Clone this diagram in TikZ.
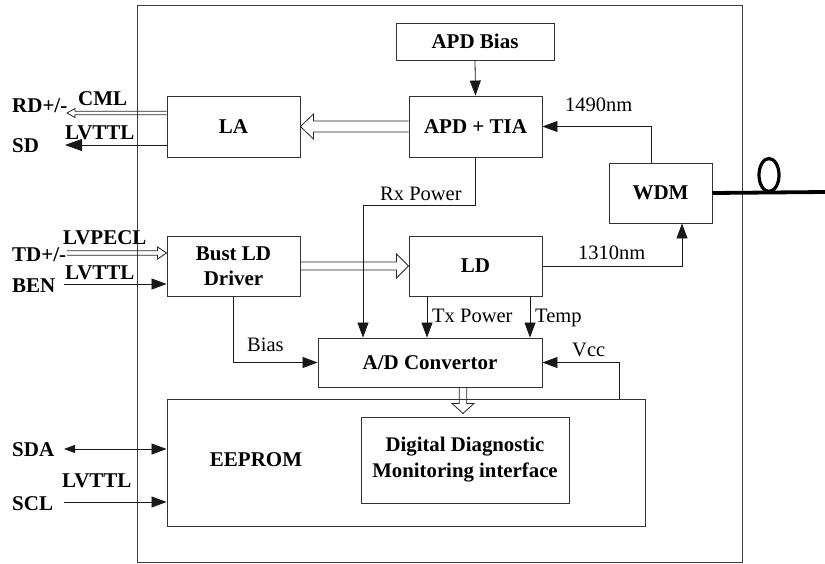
\documentclass[tikz,border=0pt]{standalone}
\usepackage{fontspec}
\setmainfont{Liberation Serif}
\usetikzlibrary{arrows.meta,calc}

% hollow (outlined) block arrow from #1 (tail) to #2 (tip);
% #3 half shaft width, #4 half head width, #5 head length
\newcommand\hollowarr[5]{%
  \coordinate (hb) at ($(#2)!#5!(#1)$);
  \draw[hol] ($(#1)!#3!90:(#2)$) -- ($(hb)!#3!-90:(#1)$) -- ($(hb)!#4!-90:(#1)$)
    -- (#2) -- ($(hb)!#4!90:(#1)$) -- ($(hb)!#3!90:(#1)$) -- ($(#1)!#3!-90:(#2)$);
}

\begin{document}
\begin{tikzpicture}[x=1pt,y=-1pt,
  blk/.style={draw=black!80, line width=0.9pt, inner sep=0pt, align=center,
    font=\bfseries\fontsize{21}{25}\selectfont},
  blab/.style={inner sep=0pt, anchor=base west, font=\bfseries\fontsize{21}{25}\selectfont},
  nlab/.style={inner sep=0pt, anchor=base west, font=\fontsize{20.5}{24}\selectfont},
  sig/.style={draw=black!90, line width=0.8pt, -{Triangle[length=15pt,width=11pt]}},
  hol/.style={draw=black!85, line width=0.8pt, line join=miter},
]
\useasboundingbox (0,0) rectangle (825,563);

% module outline
\draw[black!75, line width=0.9pt] (137,5) rectangle (742,562);

% function blocks
\node[blk, minimum width=158pt, minimum height=37pt] (apdbias) at (475,41.5) {APD Bias};
\node[blk, minimum width=133pt, minimum height=61pt] (apdtia) at (475.5,126.5) {APD + TIA};
\node[blk, minimum width=133pt, minimum height=61pt] (la) at (233.5,126.5) {LA};
\node[blk, minimum width=103pt, minimum height=60pt] (wdm) at (660.5,193) {WDM};
\node[blk, minimum width=133pt, minimum height=60pt] (driver) at (233.5,266) {Bust LD\\Driver};
\node[blk, minimum width=133pt, minimum height=60pt] (ld) at (475.5,266) {LD};
\node[blk, minimum width=224pt, minimum height=49pt] (ad) at (430,362.5) {A/D Convertor};
\node[blk, minimum width=478pt, minimum height=127pt] (eeprom) at (406,462.5) {};
\node[blk, minimum width=208pt, minimum height=86pt, font=\bfseries\fontsize{20.8}{26}\selectfont]
  (ddm) at (465,460) {Digital Diagnostic\\Monitoring interface};
\node[inner sep=0pt, font=\bfseries\fontsize{21}{25}\selectfont] (eeplab) at (256,460) {EEPROM};

% receive path
\draw[sig] (apdbias.south) -- (apdtia.north);
\draw[sig] ([xshift=-9.5pt]wdm.north) |- (apdtia.east);
\node[nlab] (l1490) at (565,111) {1490nm};
\hollowarr{apdtia.west}{la.east}{5.5pt}{12.5pt}{13pt}

% transmit path
\hollowarr{driver.east}{ld.west}{4pt}{12pt}{12pt}
\draw[sig] (ld.east) -| ([xshift=21.5pt]wdm.south);
\node[nlab] (l1310) at (578,259) {1310nm};

% fiber pigtail with loop
\coordinate (fibend) at (825,192);
\coordinate (loopc) at (769,175);
\draw[line width=3.8pt] (wdm.east) -- (fibend);
\draw[line width=3.2pt] (loopc) ellipse [x radius=10pt, y radius=16.5pt];

% monitoring signals to the A/D convertor
\coordinate (rxc) at (363,205);
\draw[sig] (apdtia.south) |- (rxc) -- (rxc |- ad.north);
\node[nlab] (lrx) at (380,200) {Rx Power};
\draw[sig] ([xshift=-48.5pt]ld.south) -- ([xshift=-48.5pt]ld.south |- ad.north);
\node[nlab] (ltx) at (432,322) {Tx Power};
\draw[sig] ([xshift=54.5pt]ld.south) -- ([xshift=54.5pt]ld.south |- ad.north);
\node[nlab] (ltemp) at (535,322) {Temp};
\draw[sig] (driver.south) |- (ad.west);
\node[nlab] (lbias) at (247,351) {Bias};
\draw[sig] ([xshift=213pt]eeprom.north) |- (ad.east);
\node[nlab] (lvcc) at (572,356) {Vcc};
\hollowarr{[xshift=33pt]ad.south}{[xshift=33pt,yshift=-26pt]ad.south}{3.8pt}{11pt}{10pt}

% electrical interface on the left
\coordinate (rdend) at (67,113);
\hollowarr{[yshift=13.5pt]la.west}{rdend}{1.7pt}{4.5pt}{8pt}
\coordinate (sdend) at (65,145);
\draw[sig, -{Triangle[length=17pt,width=12pt]}] ([yshift=-18.5pt]la.west) -- (sdend);
\node[blab] (rd) at (12,112) {RD+/-};
\node[blab] (cml) at (78,105) {CML};
\node[blab] (lvttl1) at (65,139) {LVTTL};
\node[blab] (sd) at (12,152) {SD};

\coordinate (tdend) at (67,253);
\hollowarr{tdend}{[yshift=13pt]driver.west}{2.3pt}{6pt}{9pt}
\coordinate (benend) at (64,284);
\draw[sig] (benend) -- ([yshift=-18pt]driver.west);
\node[blab] (lvpecl) at (63,244) {LVPECL};
\node[blab] (td) at (12,261) {TD+/-};
\node[blab] (lvttl2) at (65,279) {LVTTL};
\node[blab] (ben) at (12,292) {BEN};

\coordinate (sdaend) at (64,449);
\draw[sig, {Triangle[length=11pt,width=8pt]}-{Triangle[length=15pt,width=11pt]}]
  (sdaend) -- ([yshift=13.5pt]eeprom.west);
\coordinate (sclend) at (64,502);
\draw[sig] (sclend) -- ([yshift=-39.5pt]eeprom.west);
\node[blab] (sda) at (12,456) {SDA};
\node[blab] (lvttl3) at (62,487) {LVTTL};
\node[blab] (scl) at (12,510) {SCL};
\end{tikzpicture}
\end{document}
